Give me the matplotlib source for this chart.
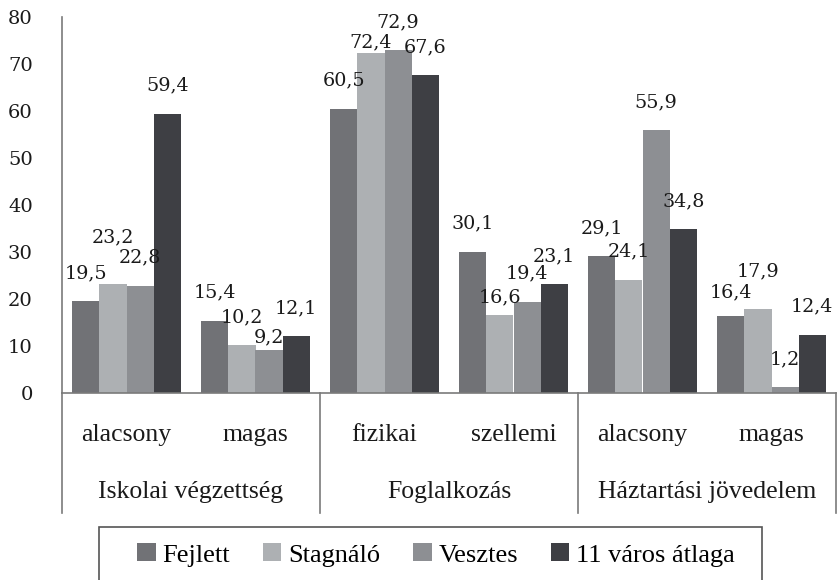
import matplotlib
matplotlib.use("Agg")
import matplotlib.pyplot as plt
from matplotlib.patches import Patch, Rectangle
from matplotlib.lines import Line2D
import matplotlib.transforms as mtransforms

categories = ["alacsony", "magas", "fizikai", "szellemi", "alacsony", "magas"]
groups = ["Iskolai végzettség", "Foglalkozás", "Háztartási jövedelem"]
series_names = ["Fejlett", "Stagnáló", "Vesztes", "11 város átlaga"]
fejlett = [19.5, 15.4, 60.5, 30.1, 29.1, 16.4]
stagnalo = [23.2, 10.2, 72.4, 16.6, 24.1, 17.9]
vesztes = [22.8, 9.2, 72.9, 19.4, 55.9, 1.2]
atlag = [59.4, 12.1, 67.6, 23.1, 34.8, 12.4]
yticks = [0, 10, 20, 30, 40, 50, 60, 70, 80]

series = [fejlett, stagnalo, vesztes, atlag]
colors = ["#717276", "#adb0b3", "#8d8f93", "#3e3f44"]

# label vertical adjustments (pixels) for overlapping labels
label_adjust = {(1, 0): 19, (2, 1): -16, (1, 2): -18, (1, 3): -10, (0, 5): -4, (1, 5): 10}

W, H = 838, 580
fig = plt.figure(figsize=(W / 100, H / 100), dpi=100)
ax_left, ax_right, ax_top, ax_bot = 62, 836, 17, 393
ax = fig.add_axes([ax_left / W, 1 - ax_bot / H, (ax_right - ax_left) / W, (ax_bot - ax_top) / H])

num_font = ["DejaVu Serif"]
txt_font = ["Liberation Serif", "DejaVu Serif"]
px2pt = 72 / 100

bw = 0.211
n = len(categories)
for j, (vals, c) in enumerate(zip(series, colors)):
    xs = [i + (j - 1.5) * bw for i in range(n)]
    ax.bar(xs, vals, width=bw, color=c, edgecolor="none", zorder=2)
    for i, (x, v) in enumerate(zip(xs, vals)):
        dy = (28 + label_adjust.get((j, i), 0)) * px2pt
        ax.annotate(f"{v:.1f}".replace(".", ","), (x, v), xytext=(0, dy),
                    textcoords="offset points", ha="center", va="center",
                    fontsize=13.8, family=num_font, color="#1a1a1a",
                    annotation_clip=False)

ax.set_xlim(-0.5, n - 0.5)
ax.set_ylim(0, 80)
ax.set_yticks(yticks)
ax.set_yticklabels([str(t) for t in yticks], fontsize=14, family=num_font, color="#1a1a1a")
ax.tick_params(axis="y", length=0, pad=21)
ax.set_xticks([])
for s in ["top", "right"]:
    ax.spines[s].set_visible(False)
for s in ["left", "bottom"]:
    ax.spines[s].set_color("#7a7a7a")
    ax.spines[s].set_linewidth(1.2)

trans = mtransforms.blended_transform_factory(ax.transData, ax.transAxes)
ybottom = (ax_bot - 513) / (ax_bot - ax_top)
for xd in [-0.5, 1.5, 3.5, 5.5]:
    ax.add_line(Line2D([xd, xd], [0, ybottom], transform=trans, color="#7a7a7a",
                       lw=1.2, clip_on=False))

row1 = (ax_bot - 435) / (ax_bot - ax_top)
row2 = (ax_bot - 492) / (ax_bot - ax_top)
for i, c in enumerate(categories):
    ax.text(i, row1, c, transform=trans, ha="center", va="center",
            fontsize=18.5, family=txt_font, color="#1a1a1a")
for g, name in enumerate(groups):
    ax.text(2 * g + 0.5, row2, name, transform=trans, ha="center", va="center",
            fontsize=18.5, family=txt_font, color="#1a1a1a")

# legend
handles = [Patch(facecolor=c, edgecolor="none") for c in colors]
fig.legend(handles, series_names, loc="center", bbox_to_anchor=(436 / W, 1 - 555 / H),
           ncol=4, frameon=False, prop={"family": txt_font, "size": 19},
           handlelength=0.7, handleheight=0.65, handletextpad=0.25, columnspacing=1.25,
           borderaxespad=0)
fig.patches.append(Rectangle((99 / W, 1 - 584 / H), (762 - 99) / W, (584 - 527) / H,
                             transform=fig.transFigure, fill=False, edgecolor="#555555",
                             lw=1.2))

fig.savefig("out.png", dpi=100)
